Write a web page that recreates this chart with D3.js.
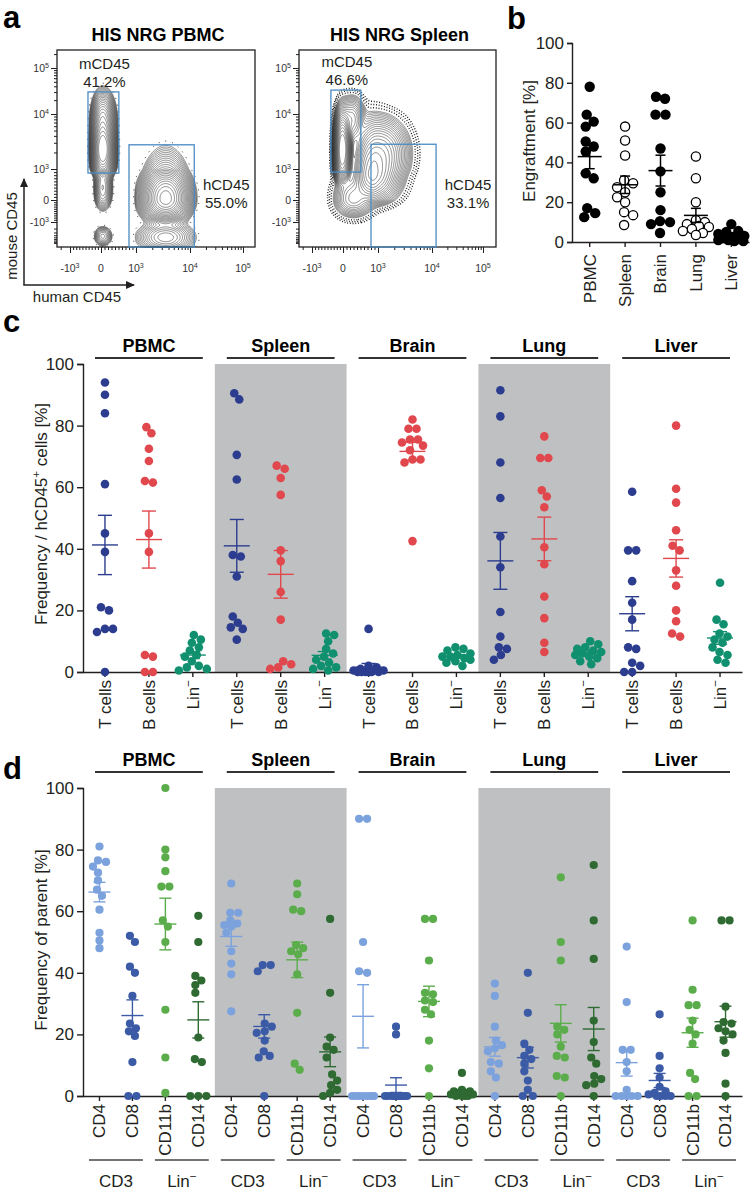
<!DOCTYPE html>
<html>
<head>
<meta charset="utf-8">
<script src="https://cdn.jsdelivr.net/npm/d3@7"></script>
<style>
body { margin: 0; background: #fff; }
svg { display: block; }
</style>
</head>
<body>
<svg id="fig" width="750" height="1193"></svg>
<script>
(function () {
// ---------------- data ----------------
var tissues = ['PBMC', 'Spleen', 'Brain', 'Lung', 'Liver']

// panel a: flow populations [humanCD45, mouseCD45, sdX, sdY, weight] in decade units
var flowTitles = ['HIS NRG PBMC', 'HIS NRG Spleen']
var popsPBMC = [
    [0.05, 1.35, 0.13, 0.22, 0.30],
    [0.05, 1.85, 0.14, 0.25, 0.08],
    [0.05, 0.40, 0.11, 0.35, 0.025],
    [0.05, -1.65, 0.12, 0.20, 0.006],
    [1.55, 0.05, 0.17, 0.40, 0.55],
    [1.55, -1.70, 0.22, 0.30, 0.04]
]
var popsSpleen = [
    [-0.02, 1.35, 0.10, 0.28, 0.40],
    [0.25, 1.90, 0.16, 0.20, 0.025],
    [0.85, 0.85, 0.22, 0.38, 0.30],
    [1.10, 1.30, 0.20, 0.25, 0.05],
    [0.30, 0.05, 0.25, 0.35, 0.05]
]
// gates [x0, x1, y0, y1] in decade units and their frequencies
var gatesM = [[-0.42, 0.51, 0.87, 2.48], [-0.39, 0.51, 0.90, 2.52]]
var gatesH = [[0.80, 2.08, -2.2, 1.44], [0.80, 2.08, -2.2, 1.45]]
var pctM = ['41.2%', '46.6%']
var pctH = ['55.0%', '33.1%']
var flowTickVals = [-1, 0, 1, 2, 3]
var flowTickText = [['-10', '3'], ['0', ''], ['10', '3'], ['10', '4'], ['10', '5']]

// panel b: engraftment [%]
var engraft = [
    [78, 64, 60.5, 58, 50.5, 48, 45.5, 34.5, 32, 17, 14.5, 12.5],
    [58, 51, 43.5, 31, 29.5, 27.5, 25, 22.5, 20, 15, 13.5, 8.5],
    [73, 72, 64, 64, 47, 35.5, 25, 16, 10.5, 10, 9, 4.5],
    [43, 32, 20, 11, 10, 9, 8, 7.5, 6.5, 5.5, 4.5, 3.5],
    [9, 5.5, 5, 4, 3, 2.5, 2, 1.5, 1, 1, 0.5, 0.5]
]
var engraftFilled = [true, false, true, false, true]

// panel c: frequency / hCD45+ cells [%]
var cTypes = ['T cells', 'B cells', 'Lin-']
var cT = [
    [94, 90, 84, 61, 45, 39, 21, 20, 14, 14, 13, 0],
    [90.5, 88.5, 70.5, 62.5, 38, 37.5, 31, 18, 16, 14.5, 14, 10.5],
    [14, 2, 1.5, 1, 0.5, 0.5, 0, 0, 0, 0, 0, 0],
    [91.5, 83, 68, 56.5, 44, 34, 19.5, 11.5, 8, 7.5, 5.5, 4],
    [58.5, 39.5, 39.5, 29.5, 22.5, 17, 8, 7.5, 3, 2, 0, 0]
]
var cB = [
    [79.5, 77.5, 72.5, 68.5, 62, 61.5, 45, 39, 5.5, 5, 0, 0],
    [67, 66, 63, 57.5, 39.5, 36, 26, 17, 3.5, 2.5, 1.5, 1],
    [82, 79, 79, 75.5, 75.5, 74.5, 73.5, 72, 69, 69, 68, 42.5],
    [76.5, 69.5, 69.5, 59, 57, 53.5, 40.5, 35, 24.5, 17.5, 9.5, 6.5],
    [80, 59.5, 55, 46, 41, 39.5, 33, 28, 20, 16.5, 12.5, 11.5]
]
var cLin = [
    [12, 10.5, 9.5, 8, 7, 5.5, 5, 3.5, 2, 1.5, 1, 0.5],
    [12.5, 12, 10, 7.5, 6, 5, 4, 3, 2, 1.5, 1, 0.5],
    [8, 7.5, 7, 6, 5.5, 5, 5, 4.5, 4, 3.5, 3, 2],
    [10, 9, 8, 7.5, 7, 6.5, 6, 5.5, 5, 4.5, 3.5, 2.5],
    [29, 17, 15.5, 12.5, 11.5, 10.5, 9.5, 8, 6.5, 5.5, 4, 3]
]

// panel d: frequency of parent [%]
var dTypes = ['CD4', 'CD8', 'CD11b', 'CD14']
var dParents = ['CD3', 'Lin-']
var dCD4 = [
    [81, 76.5, 76, 74.5, 72.5, 70, 67, 65, 60.5, 53, 50.5, 48],
    [69, 59.5, 59.5, 57, 56, 55.5, 55, 53, 47, 43, 39.5, 27.5],
    [90, 90, 50, 40.5, 40, 0, 0, 0, 0, 0, 0, 0],
    [36.5, 32.5, 22.5, 18, 16.5, 15.5, 14.5, 11, 10.5, 8, 6, 0],
    [48.5, 30.5, 15, 15, 11, 8, 2, 0, 0, 0, 0, 0]
]
var dCD8 = [
    [52, 50, 42, 40, 32.5, 23.5, 22, 21, 19.5, 11, 0, 0],
    [42.5, 42.5, 40.5, 23.5, 22.5, 21, 20.5, 18, 14.5, 13, 12.5, 0],
    [22.5, 20, 0, 0, 0, 0, 0, 0, 0, 0, 0, 0],
    [40, 27, 17, 15, 13, 12, 10.5, 8, 5, 2, 0, 0],
    [26.5, 13, 9, 6, 3, 1.5, 1, 0.5, 0, 0, 0, 0]
]
var dCD11b = [
    [100, 80, 77.5, 73, 68, 68, 57, 55, 50, 28, 12.5, 1],
    [69, 65.5, 60.5, 60, 49, 48, 47, 46, 39.5, 27, 10.5, 8.5],
    [57.5, 57.5, 44, 33.5, 33, 31, 30.5, 28, 26.5, 18, 9, 0],
    [71, 50, 44, 22.5, 21.5, 20, 16, 13, 12.5, 6.5, 6, 0],
    [57, 34.5, 29.5, 29.5, 24.5, 21.5, 20, 17, 7.5, 5.5, 0, 0]
]
var dCD14 = [
    [58.5, 50, 39, 37.5, 36, 33.5, 19, 12, 11, 0, 0, 0],
    [57.5, 33.5, 19, 16, 15, 12.5, 7, 5, 3.5, 2, 1, 0],
    [7.5, 2, 1.5, 1.5, 1, 1, 0.5, 0.5, 0, 0, 0, 0],
    [75, 57, 44.5, 24.5, 17.5, 12.5, 10.5, 6.5, 5.5, 4, 3.5, 0],
    [57, 57, 29, 24, 23.5, 22, 21, 20, 18, 14, 4, 0]
]

// ---------------- helpers ----------------
var FONT = '"Liberation Sans", Arial, Helvetica, sans-serif'
var INK = '#231f20'
var svg = d3.select('#fig').attr('font-family', FONT)

svg.append('defs').append('marker')
    .attr('id', 'arr').attr('markerUnits', 'userSpaceOnUse')
    .attr('markerWidth', 9).attr('markerHeight', 8)
    .attr('refX', 8).attr('refY', 4).attr('orient', 'auto')
    .append('path').attr('d', 'M0,0L9,4L0,8z').attr('fill', INK)

// text with an optional superscript piece: parts = [[str, isSup], ...]
var richText = (sel, parts, size) => {
    sel.text(null)
    var up = false
    parts.forEach(p => {
        if (!p[0]) return
        var t = sel.append('tspan').text(p[0])
        if (p[1] && !up) { t.attr('dy', -size * 0.42).attr('font-size', size * 0.68); up = true }
        else if (!p[1] && up) { t.attr('dy', size * 0.42); up = false }
    })
}
var labelParts = s => s == 'Lin-' ? [['Lin', false], ['\u2212', true]] : [[s, false]]

var styleAxis = (g, size) => {
    g.attr('font-family', FONT).attr('font-size', size)
    g.selectAll('path, line').attr('stroke', INK).attr('stroke-width', 1.4)
    g.selectAll('text').attr('fill', INK)
}

// simple beeswarm, points sorted by value then pushed sideways
var swarm = (vals, y, r, maxW) => {
    var pts = vals.map(v => ({ v: v, y: y(v), x: 0 }))
    var order = pts.slice().sort((a, b) => a.y - b.y)
    var placed = []
    order.forEach(p => {
        var best = 0, bestD = -1
        for (var k = 0; k <= 2 * maxW; k++) {
            var off = (k % 2 ? 1 : -1) * Math.ceil(k / 2)
            var dmin = Infinity
            placed.forEach(q => { dmin = Math.min(dmin, Math.hypot(q.x - off, q.y - p.y)) })
            if (dmin >= 2 * r * 0.92) { best = off; bestD = Infinity; break }
            if (dmin > bestD) { bestD = dmin; best = off }
        }
        p.x = best
        placed.push(p)
    })
    // centre each touching cluster
    var cl = [order[0]]
    var flush = () => {
        var e = d3.extent(cl, d => d.x), s = (e[0] + e[1]) / 2
        cl.forEach(d => { d.x -= s })
    }
    for (var i = 1; i < order.length; i++) {
        if (order[i].y - order[i - 1].y >= 2 * r) { flush(); cl = [] }
        cl.push(order[i])
    }
    flush()
    return pts
}

var meanSem = (g, vals, cx, y, half, cap, color, w) => {
    var m = d3.mean(vals), s = d3.deviation(vals) / Math.sqrt(vals.length)
    var lines = [
        [cx - half, y(m), cx + half, y(m)],
        [cx, y(m - s), cx, y(m + s)],
        [cx - cap, y(m + s), cx + cap, y(m + s)],
        [cx - cap, y(m - s), cx + cap, y(m - s)]
    ]
    g.selectAll(null).data(lines).enter().append('line')
        .attr('x1', d => d[0]).attr('y1', d => d[1])
        .attr('x2', d => d[2]).attr('y2', d => d[3])
        .attr('stroke', color).attr('stroke-width', w)
}

// panel letters
svg.selectAll('text.plabel')
    .data([['a', 3, 28], ['b', 507, 29], ['c', 3, 332], ['d', 3, 779]])
    .enter().append('text').attr('class', 'plabel')
    .attr('x', d => d[1]).attr('y', d => d[2])
    .attr('font-size', 31).attr('font-weight', 'bold').attr('fill', '#000')
    .text(d => d[0])

// ---------------- panel a ----------------
var fy0 = 50, fy1 = 247
var yFlow = d3.scaleLinear().domain([-2.14, -1, 0, 1, 2, 3, 3.39]).range([247, 222, 200, 169, 114, 68, 50])
var xFlows = [
    d3.scaleLinear().domain([-1.42, -1, 0, 1, 2, 3, 3.22]).range([57, 70, 101, 136, 190, 243, 255]),
    d3.scaleLinear().domain([-1.42, -1, 0, 1, 2, 3, 3.25]).range([299, 312, 343, 378, 432, 483, 496])
]
var minorTicks = (lo, hi) => {
    var t = []
    for (var k = 1; k < 4; k++) for (var m = 2; m < 10; m++) t.push(k + Math.log10(m))
    for (var m = 1; m < 10; m++) { t.push(m / 10); t.push(-m / 10) }
    for (var m = 2; m < 10; m++) t.push(-1 - Math.log10(m))
    return t.filter(v => v > lo && v < hi)
}

;[popsPBMC, popsSpleen].forEach((pops, pi) => {
    var xs = xFlows[pi]
    var bx0 = xs.range()[0], bx1 = xs.range()[xs.range().length - 1]
    var w = Math.round(bx1 - bx0), h = fy1 - fy0
    var g = svg.append('g')

    // density grid from the populations, then contour lines
    var vals = new Float64Array(w * h)
    for (var j = 0; j < h; j++) {
        var dy = yFlow.invert(fy0 + j + 0.5)
        for (var i = 0; i < w; i++) {
            var dx = xs.invert(bx0 + i + 0.5), s = 0
            pops.forEach(p => {
                var u = (dx - p[0]) / p[2], v = (dy - p[1]) / p[3]
                s += p[4] / (p[2] * p[3]) * Math.exp(-0.5 * (u * u + v * v))
            })
            vals[j * w + i] = s
        }
    }
    var mx = d3.max(vals)
    var th = d3.range(1, 24).map(k => mx * 0.8 * Math.pow(0.77, k))
    var cs = d3.contours().size([w, h]).thresholds(th)(vals)
    var cg = g.append('g').attr('transform', 'translate(' + bx0 + ',' + fy0 + ')')
    cg.selectAll('path.lvl').data(cs).enter().append('path').attr('class', 'lvl')
        .attr('d', d3.geoPath())
        .attr('fill', 'none').attr('stroke', '#1c1c1c').attr('stroke-width', 0.5)
    // speckled fringe of rare events around the populations
    var fringe = d3.range(1, pi ? 4 : 2).map(k => th[th.length - 1] * Math.pow(0.5, k))
    cg.selectAll('path.fr').data(d3.contours().size([w, h]).thresholds(fringe)(vals)).enter()
        .append('path').attr('class', 'fr')
        .attr('d', d3.geoPath())
        .attr('fill', 'none').attr('stroke', '#111').attr('stroke-width', pi ? 1.4 : 1)
        .attr('stroke-dasharray', pi ? '0.9,1.8' : '0.9,6')

    // frame
    g.append('rect').attr('x', bx0).attr('y', fy0).attr('width', bx1 - bx0).attr('height', h)
        .attr('fill', 'none').attr('stroke', INK).attr('stroke-width', 1.3)

    // ticks
    var yAx = g.append('g').attr('transform', 'translate(' + bx0 + ',0)')
    yAx.append('g').call(d3.axisLeft(yFlow).tickValues(flowTickVals).tickSize(6).tickFormat(''))
    yAx.append('g').call(d3.axisLeft(yFlow).tickValues(minorTicks(-2.14, 3.39)).tickSize(3).tickFormat(''))
    yAx.selectAll('.domain').remove()
    yAx.selectAll('line').attr('stroke', INK).attr('stroke-width', 1)
    var xAx = g.append('g').attr('transform', 'translate(0,' + fy1 + ')')
    xAx.append('g').call(d3.axisBottom(xs).tickValues(flowTickVals).tickSize(6).tickFormat(''))
    xAx.append('g').call(d3.axisBottom(xs).tickValues(minorTicks(-1.42, 3.2)).tickSize(3).tickFormat(''))
    xAx.selectAll('.domain').remove()
    xAx.selectAll('line').attr('stroke', INK).attr('stroke-width', 1)

    flowTickVals.forEach((v, k) => {
        g.append('text').attr('x', bx0 - 8).attr('y', yFlow(v) + 4)
            .attr('text-anchor', 'end').attr('font-size', 10.5).attr('fill', '#333')
            .call(richText, [[flowTickText[k][0], false], [flowTickText[k][1], true]], 10.5)
        g.append('text').attr('x', xs(v)).attr('y', 272)
            .attr('text-anchor', 'middle').attr('font-size', 10.5).attr('fill', '#333')
            .call(richText, [[flowTickText[k][0], false], [flowTickText[k][1], true]], 10.5)
    })

    // gates
    var gm = gatesM[pi], gh = gatesH[pi]
    ;[gm, gh].forEach(q => {
        g.append('rect')
            .attr('x', xs(q[0])).attr('y', yFlow(q[3]))
            .attr('width', xs(q[1]) - xs(q[0])).attr('height', Math.min(yFlow(q[2]), fy1) - yFlow(q[3]))
            .attr('fill', 'none').attr('stroke', '#4a8bc4').attr('stroke-width', 1.3)
    })
    var mcx = (xs(gm[0]) + xs(gm[1])) / 2 + 1
    g.append('text').attr('x', mcx).attr('y', yFlow(gm[3]) - 23).attr('text-anchor', 'middle')
        .attr('font-size', 15).attr('fill', INK).text('mCD45')
    g.append('text').attr('x', mcx).attr('y', yFlow(gm[3]) - 5).attr('text-anchor', 'middle')
        .attr('font-size', 15).attr('fill', INK).text(pctM[pi])
    var hcx = xs(gh[1]) + 32
    g.append('text').attr('x', hcx).attr('y', 190).attr('text-anchor', 'middle')
        .attr('font-size', 15).attr('fill', INK).text('hCD45')
    g.append('text').attr('x', hcx).attr('y', 208).attr('text-anchor', 'middle')
        .attr('font-size', 15).attr('fill', INK).text(pctH[pi])

    g.append('text').attr('x', (bx0 + bx1) / 2 + 2).attr('y', 41).attr('text-anchor', 'middle')
        .attr('font-size', 18).attr('font-weight', 'bold').attr('fill', '#000').text(flowTitles[pi])
})

// axis arrows of panel a
svg.append('path').attr('d', 'M24,285V179').attr('stroke', INK).attr('stroke-width', 1.5)
    .attr('fill', 'none').attr('marker-end', 'url(#arr)')
svg.append('path').attr('d', 'M23.3,285H134').attr('stroke', INK).attr('stroke-width', 1.5)
    .attr('fill', 'none').attr('marker-end', 'url(#arr)')
svg.append('text').attr('transform', 'translate(17,236) rotate(-90)').attr('text-anchor', 'middle')
    .attr('font-size', 15).attr('fill', INK).text('mouse CD45')
svg.append('text').attr('x', 77).attr('y', 302).attr('text-anchor', 'middle')
    .attr('font-size', 15).attr('fill', INK).text('human CD45')

// ---------------- panel b ----------------
var yB = d3.scaleLinear().domain([0, 100]).range([242, 43])
var xB = d3.scaleBand().domain(tissues).range([572, 749])
var gB = svg.append('g')
gB.append('g').attr('transform', 'translate(572,0)')
    .call(d3.axisLeft(yB).tickValues(d3.range(0, 101, 20)).tickSize(5).tickPadding(3))
    .call(styleAxis, 17)
gB.append('g').attr('transform', 'translate(0,242)')
    .call(d3.axisBottom(xB).tickSize(5).tickSizeOuter(0))
    .call(styleAxis, 17)
    .selectAll('.tick text')
    .attr('transform', 'rotate(-90)').attr('x', -12).attr('y', 0).attr('dy', '0.35em')
    .attr('text-anchor', 'end')
gB.append('text').attr('transform', 'translate(535,141) rotate(-90)').attr('text-anchor', 'middle')
    .attr('font-size', 17).attr('fill', INK).text('Engraftment [%]')

engraft.forEach((vals, i) => {
    var cx = xB(tissues[i]) + xB.bandwidth() / 2
    var pts = swarm(vals, yB, 5, 13)
    gB.append('g').selectAll('circle').data(pts).enter().append('circle')
        .attr('cx', d => cx + d.x).attr('cy', d => d.y).attr('r', engraftFilled[i] ? 5.2 : 4.6)
        .attr('fill', engraftFilled[i] ? '#000' : '#fff')
        .attr('stroke', '#000').attr('stroke-width', engraftFilled[i] ? 0 : 1.3)
    meanSem(gB, vals, cx, yB, 12, 5, '#000', 1.5)
})

// ---------------- panels c and d ----------------
var drawPanel = cfg => {
    var g = svg.append('g')
    var y = d3.scaleLinear().domain([0, 100]).range([cfg.y0, cfg.y100])
    var keys = []
    tissues.forEach(t => cfg.types.forEach(k => keys.push(t + '|' + k)))
    var x = d3.scaleBand().domain(keys).range([83, 742])
    var bw = x.bandwidth(), nt = cfg.types.length

    // shaded tissues and headers
    tissues.forEach((t, ti) => {
        var gx0 = x(t + '|' + cfg.types[0]), gx1 = x(t + '|' + cfg.types[nt - 1]) + bw
        if (ti % 2 == 1) {
            g.append('rect').attr('x', gx0).attr('y', y(100)).attr('width', gx1 - gx0)
                .attr('height', y(0) - y(100)).attr('fill', '#bfc0c2')
        }
        g.append('line').attr('x1', gx0 + 12).attr('x2', gx1 - 12)
            .attr('y1', cfg.headLine).attr('y2', cfg.headLine)
            .attr('stroke', '#333').attr('stroke-width', 2.2)
        g.append('text').attr('x', (gx0 + gx1) / 2).attr('y', cfg.headLine - 6)
            .attr('text-anchor', 'middle').attr('font-size', 18).attr('font-weight', 'bold')
            .attr('fill', '#000').text(t)
        if (cfg.parents) {
            cfg.parents.forEach((p, pi) => {
                var a = x(t + '|' + cfg.types[pi * 2]) + 6, b = x(t + '|' + cfg.types[pi * 2 + 1]) + bw - 6
                g.append('line').attr('x1', a).attr('x2', b).attr('y1', 1160).attr('y2', 1160)
                    .attr('stroke', '#444').attr('stroke-width', 1.3)
                g.append('text').attr('x', (a + b) / 2).attr('y', 1187).attr('text-anchor', 'middle')
                    .attr('font-size', 17).attr('fill', INK).call(richText, labelParts(p), 17)
            })
        }
    })

    g.append('g').attr('transform', 'translate(83,0)')
        .call(d3.axisLeft(y).tickValues(d3.range(0, 101, 20)).tickSize(6).tickPadding(3))
        .call(styleAxis, 17)
    g.append('g').attr('transform', 'translate(0,' + cfg.y0 + ')')
        .call(d3.axisBottom(x).tickSize(5).tickSizeOuter(0))
        .call(styleAxis, 17)
        .selectAll('.tick text')
        .attr('transform', 'rotate(-90)').attr('x', -8).attr('y', 0).attr('dy', '0.35em')
        .attr('text-anchor', 'end')
        .each(function (d) { d3.select(this).call(richText, labelParts(d.split('|')[1]), 17) })
    g.append('text').attr('transform', 'translate(47,' + cfg.labelY + ') rotate(-90)')
        .attr('text-anchor', 'middle').attr('font-size', 17).attr('fill', INK)
        .call(richText, cfg.label, 17)

    cfg.series.forEach((ser, k) => {
        ser.forEach((vals, ti) => {
            var cx = x(tissues[ti] + '|' + cfg.types[k]) + bw / 2
            var pts = swarm(vals, y, cfg.r, cfg.maxW)
            g.append('g').selectAll('circle').data(pts).enter().append('circle')
                .attr('cx', d => cx + d.x).attr('cy', d => d.y).attr('r', cfg.r)
                .attr('fill', cfg.colors[k])
            meanSem(g, vals, cx, y, cfg.half, cfg.cap, cfg.colors[k], 1.4)
        })
    })
}

drawPanel({
    types: cTypes, series: [cT, cB, cLin], colors: ['#2c3d8f', '#e0484d', '#10906f'],
    y0: 672, y100: 364, headLine: 358, r: 4.3, maxW: 15, half: 13, cap: 7,
    labelY: 514, label: [['Frequency / hCD45', false], ['+', true], [' cells [%]', false]]
})
drawPanel({
    types: dTypes, series: [dCD4, dCD8, dCD11b, dCD14], colors: ['#7ca2dd', '#3c5ba6', '#5bad4b', '#2e6a31'],
    y0: 1096, y100: 788, headLine: 772, r: 4.1, maxW: 11, half: 11, cap: 6,
    parents: dParents,
    labelY: 940, label: [['Frequency of parent [%]', false]]
})
})();
</script>
</body>
</html>
